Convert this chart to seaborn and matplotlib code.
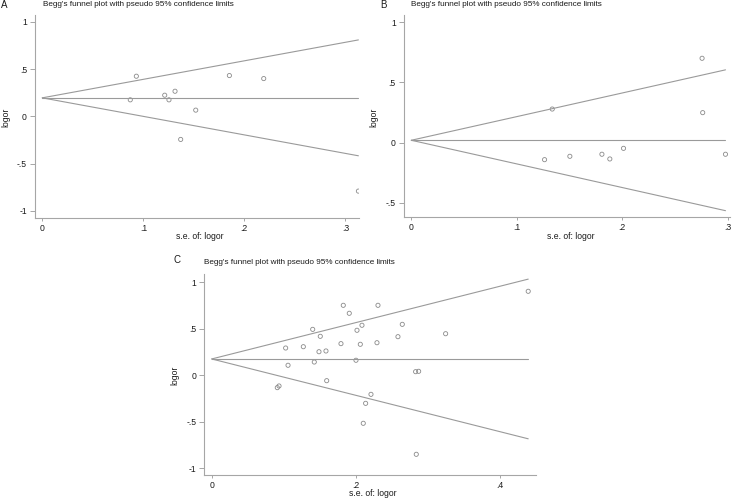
import numpy as np
import pandas as pd
import matplotlib
matplotlib.use("Agg")
import matplotlib.pyplot as plt
import seaborn as sns

# ---- data ----
a_se = [0.0871, 0.0931, 0.1212, 0.1254, 0.1314, 0.1370, 0.1519, 0.1852, 0.2192, 0.3129]
a_logor = [0.176, 0.426, 0.225, 0.176, 0.267, -0.243, 0.067, 0.433, 0.401, -0.790]
a_center = 0.197

b_se = [0.1264, 0.1337, 0.1504, 0.1808, 0.1883, 0.2013, 0.2758, 0.2764, 0.2980]
b_logor = [-0.141, 0.279, -0.113, -0.096, -0.135, -0.047, 0.700, 0.249, -0.096]
b_center = 0.020

c_se = [0.0909, 0.0933, 0.1025, 0.1058, 0.1270, 0.1400, 0.1422, 0.1487, 0.1505, 0.1584,
        0.1594, 0.1792, 0.1824, 0.1907, 0.2000, 0.2014, 0.2060, 0.2083, 0.2101, 0.2134,
        0.2208, 0.2291, 0.2305, 0.2582, 0.2642, 0.2827, 0.2869, 0.2836, 0.3243, 0.4388]
c_logor = [-0.133, -0.115, 0.294, 0.108, 0.308, 0.495, 0.143, 0.254, 0.420, 0.262,
           -0.058, 0.341, 0.754, 0.668, 0.162, 0.485, 0.334, 0.539, -0.517, -0.302,
           -0.205, 0.351, 0.754, 0.416, 0.549, 0.039, 0.043, -0.851, 0.448, 0.905]
c_center = 0.176

z95 = 1.96
title_text = "Begg's funnel plot with pseudo 95% confidence limits"
xlabel_text = "s.e. of: logor"
ylabel_text = "logor"

a_xticks = [0, 0.1, 0.2, 0.3]; a_xticklabels = ["0", ".1", ".2", ".3"]
a_yticks = [-1, -0.5, 0, 0.5, 1]; a_yticklabels = ["-1", "-.5", "0", ".5", "1"]
b_xticks = [0, 0.1, 0.2, 0.3]; b_xticklabels = ["0", ".1", ".2", ".3"]
b_yticks = [-0.5, 0, 0.5, 1]; b_yticklabels = ["-.5", "0", ".5", "1"]
c_xticks = [0, 0.2, 0.4]; c_xticklabels = ["0", ".2", ".4"]
c_yticks = [-1, -0.5, 0, 0.5, 1]; c_yticklabels = ["-1", "-.5", "0", ".5", "1"]

sns.set_theme(style="white")
plt.rcParams["font.family"] = ["Liberation Sans", "DejaVu Sans"]

W, H = 736, 499
fig = plt.figure(figsize=(W / 100, H / 100), dpi=100)

AX_COL = "#a6a6a6"
LINE_COL = "#9a9a9a"
PT_COL = "#8a8a8a"
TXT = "#1a1a1a"
FS = 6.2
TFS = 5.85


def px_axes(l, r, t, b):
    return [l / W, 1 - b / H, (r - l) / W, (b - t) / H]


def funnel(ax, se, logor, center, xlim, ylim, xt, xtl, yt, ytl):
    df = pd.DataFrame({"se": se, "logor": logor})
    smax = max(se)
    lines = pd.DataFrame({
        "se": [0, smax] * 3,
        "y": [center, center, center, center + z95 * smax, center, center - z95 * smax],
        "g": ["c", "c", "u", "u", "l", "l"],
    })
    sns.lineplot(data=lines, x="se", y="y", units="g", estimator=None,
                 color=LINE_COL, lw=0.8, ax=ax, legend=False)
    sns.scatterplot(data=df, x="se", y="logor", ax=ax, marker="o", s=9,
                    facecolors="none", edgecolor=PT_COL, linewidth=0.6, legend=False)
    ax.set_xlim(*xlim)
    ax.set_ylim(*ylim)
    ax.set_xticks(xt)
    ax.set_xticklabels(xtl)
    ax.set_yticks(yt)
    ax.set_yticklabels(ytl)
    ax.set_xlabel("")
    ax.set_ylabel("")
    for s in ["top", "right"]:
        ax.spines[s].set_visible(False)
    for s in ["left", "bottom"]:
        ax.spines[s].set_color(AX_COL)
        ax.spines[s].set_linewidth(0.8)
    ax.tick_params(axis="both", direction="out", width=0.7, color=AX_COL,
                   labelsize=FS, labelcolor=TXT, left=True, bottom=True)
    ax.tick_params(axis="x", length=2.4, pad=1.6)
    ax.tick_params(axis="y", length=3.4, pad=2.4)
    ax.set_facecolor("white")


axA = fig.add_axes(px_axes(35, 359, 15, 218.3))
funnel(axA, a_se, a_logor, a_center, (-0.0072, 0.3135), (-1.078, 1.074),
       a_xticks, a_xticklabels, a_yticks, a_yticklabels)
axB = fig.add_axes(px_axes(403.7, 729.7, 15, 217.3))
funnel(axB, b_se, b_logor, b_center, (-0.0072, 0.302), (-0.619, 1.059),
       b_xticks, b_xticklabels, b_yticks, b_yticklabels)
axC = fig.add_axes(px_axes(204.3, 536, 274.3, 475))
funnel(axC, c_se, c_logor, c_center, (-0.0103, 0.4496), (-1.074, 1.088),
       c_xticks, c_xticklabels, c_yticks, c_yticklabels)


def ftext(x, y, s, **kw):
    fig.text(x / W, 1 - y / H, s, fontsize=kw.pop("fs", FS), color=TXT, **kw)


# panel letters and titles
ftext(1, 5, "A", ha="left", va="center", fs=7)
ftext(43, 5, title_text, ha="left", va="center", fs=TFS)
ftext(380, 5, "B", ha="left", va="center", fs=7)
ftext(411, 5, title_text, ha="left", va="center", fs=TFS)
ftext(173, 260, "C", ha="left", va="center", fs=7)
ftext(204, 262, title_text, ha="left", va="center", fs=TFS)

# axis labels
ftext(6, 117, ylabel_text, ha="center", va="center", rotation=90)
ftext(200, 236.5, xlabel_text, ha="center", va="center")
ftext(374, 117, ylabel_text, ha="center", va="center", rotation=90)
ftext(571, 236.5, xlabel_text, ha="center", va="center")
ftext(175, 375, ylabel_text, ha="center", va="center", rotation=90)
ftext(373, 493.5, xlabel_text, ha="center", va="center")

fig.savefig("out.png", dpi=100, facecolor="white")
